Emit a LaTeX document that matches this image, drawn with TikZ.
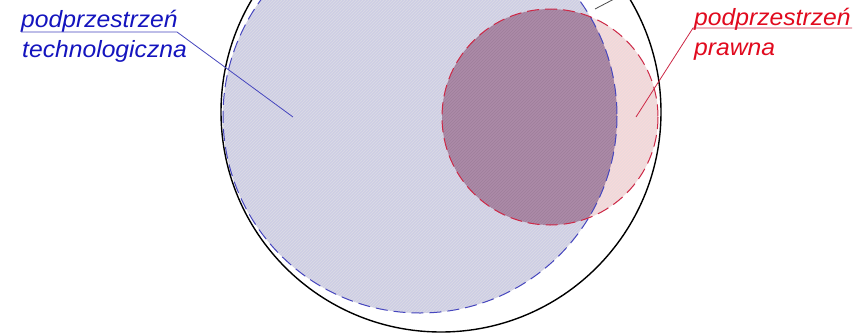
\documentclass[tikz,border=0pt]{standalone}
\usepackage{fontspec}
\newfontfamily\lab{Liberation Sans}[FakeStretch=1.05]
\usetikzlibrary{patterns}
\definecolor{bluefill}{RGB}{206,206,228}
\definecolor{purplefill}{RGB}{172,138,168}
\definecolor{pinkfill}{RGB}{238,218,220}
\definecolor{bluestroke}{RGB}{70,70,190}
\definecolor{redstroke}{RGB}{205,40,70}
\definecolor{labblue}{RGB}{20,20,190}
\definecolor{labred}{RGB}{225,10,30}
\tikzset{
  lbl/.style={inner sep=0pt, anchor=base west, font=\lab\itshape\fontsize{23.5}{26}\selectfont},
  blueline/.style={draw=bluestroke, line width=0.8pt},
  redline/.style={draw=redstroke, line width=0.8pt},
  hatch/.style={pattern=north east lines, pattern color=#1}
}
\begin{document}
\begin{tikzpicture}[x=1pt,y=-1pt]
\useasboundingbox (0,0) rectangle (868,333);
\fill[white] (0,0) rectangle (868,333);
\begin{scope}
\clip (0,0) rectangle (868,333);
% blue region
\fill[bluefill] (420,116) circle (197);
\fill[hatch=black!10, opacity=0.6] (420,116) circle (197);
% red region
\fill[pinkfill] (550,117) circle (108);
\fill[hatch=red!15, opacity=0.6] (550,117) circle (108);
\begin{scope}
\clip (420,116) circle (197);
\fill[purplefill] (550,117) circle (108);
\fill[hatch=purplefill!80!black, opacity=0.4] (550,117) circle (108);
\end{scope}
\draw[draw=bluestroke, line width=1pt, dash pattern=on 12pt off 6pt] (420,116) circle (197);
\draw[draw=redstroke, line width=1pt, dash pattern=on 12pt off 6pt] (550,117) circle (108);
% outer circle
\draw[black, line width=1.4pt] (441,112) circle (220);
% leader of cropped label at top
\coordinate (tk1) at (595,9);
\coordinate (tk2) at (616,-2);
\draw[black!70, line width=0.8pt] (tk1) -- (tk2);
\end{scope}
% labels
\node[lbl, text=labblue] (t1) at (21,27) {podprzestrzeń};
\node[lbl, text=labblue] (t2) at (22,57) {technologiczna};
\node[lbl, text=labred] (r1) at (694,25) {podprzestrzeń};
\node[lbl, text=labred] (r2) at (694,55) {prawna};
\coordinate (tu1) at (21,32);
\coordinate (tu2) at (177,32);
\coordinate (tend) at (293,117);
\draw[blueline] (tu1) -- (tu2) -- (tend);
\coordinate (ru1) at (852,28);
\coordinate (ru2) at (693,28);
\coordinate (rend) at (636,117);
\draw[redline] (ru1) -- (ru2) -- (rend);
\end{tikzpicture}
\end{document}
